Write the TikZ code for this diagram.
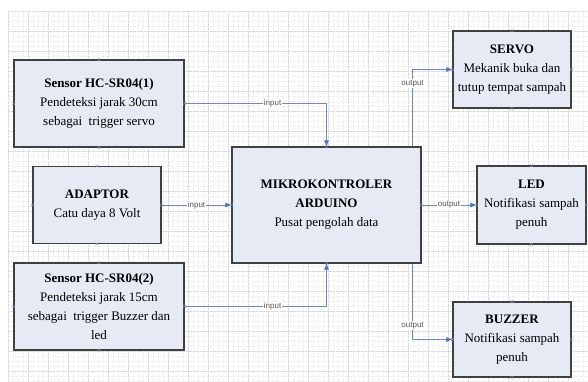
\documentclass[tikz,border=0pt]{standalone}
\usepackage{fontspec}
\setmainfont{Liberation Serif}
\setsansfont{Liberation Sans}
\usetikzlibrary{calc,positioning,arrows.meta}
\definecolor{boxfill}{HTML}{E5EAF4}
\definecolor{boxline}{HTML}{404040}
\definecolor{wire}{HTML}{7089B4}
\definecolor{tipblue}{HTML}{4A70B5}
\definecolor{gridgray}{HTML}{D8D8D8}
\definecolor{tagtext}{HTML}{555555}

\begin{document}
\begin{tikzpicture}[x=1pt,y=-1pt,
  blok/.style={draw=boxline,line width=1.1pt,fill=boxfill,align=center,
    font=\fontsize{13}{19}\selectfont,inner sep=2pt},
  wirecon/.style={draw=wire,line width=0.9pt,
    -{Latex[length=6pt,width=5pt,color=tipblue]}},
  tag/.style={fill=white,inner sep=1pt,text=tagtext,
    font=\sffamily\fontsize{8}{9}\selectfont},
  pin/.style={draw=wire!80,line width=0.4pt}]
  \useasboundingbox (0,0) rectangle (588,381);
  % grid sheet
  \fill[white] (8,11) rectangle (588,381);
  \foreach \gx in {8,13,...,588}{
    \draw[gridgray!35,densely dotted,line width=0.3pt] (\gx,11) -- (\gx,381);
  }
  \foreach \gy in {11,16,...,381}{
    \draw[gridgray!35,densely dotted,line width=0.3pt] (8,\gy) -- (588,\gy);
  }
  \foreach \gx in {8,28,...,588}{
    \draw[gridgray,densely dotted,line width=0.4pt] (\gx,11) -- (\gx,381);
  }
  \foreach \gy in {11,31,...,381}{
    \draw[gridgray,densely dotted,line width=0.4pt] (8,\gy) -- (588,\gy);
  }

  % blocks
  \node[blok,minimum width=170pt,minimum height=87pt] (sens1) at (99,103.5)
    {\textbf{Sensor HC-SR04(1)}\\Pendeteksi jarak 30cm\\sebagai~ trigger servo};
  \node[blok,minimum width=128pt,minimum height=77pt] (adaptor) at (97,205)
    {\textbf{ADAPTOR}\\Catu daya 8 Volt};
  \node[blok,minimum width=170pt,minimum height=87pt] (sens2) at (99,306.5)
    {\textbf{Sensor HC-SR04(2)}\\Pendeteksi jarak 15cm\\sebagai~ trigger Buzzer dan\\led};
  \node[blok,minimum width=189pt,minimum height=116pt] (mikro) at (326.5,205)
    {\textbf{MIKROKONTROLER}\\\textbf{ARDUINO}\\Pusat pengolah data};
  \node[blok,minimum width=118pt,minimum height=77pt] (servo) at (512,69.5)
    {\textbf{SERVO}\\Mekanik buka dan\\tutup tempat sampah};
  \node[blok,minimum width=109pt,minimum height=78pt] (led) at (531.5,205)
    {\textbf{LED}\\Notifikasi sampah\\penuh};
  \node[blok,minimum width=118pt,minimum height=75pt] (buzzer) at (512,339.5)
    {\textbf{BUZZER}\\Notifikasi sampah\\penuh};

  % connection points
  \foreach \b in {sens1,adaptor,sens2,mikro,servo,led,buzzer}{
    \foreach \a in {north,south,east,west}{
      \draw[pin] ($(\b.\a)+(-1.5,-1.5)$) -- ++(3,3);
      \draw[pin] ($(\b.\a)+(-1.5,1.5)$) -- ++(3,-3);
    }
  }

  % connectors
  \coordinate (outN) at ([xshift=-9pt]mikro.north east);
  \coordinate (outS) at ([xshift=-9pt]mikro.south east);
  \draw[wirecon] (sens1.east) -| node[tag,pos=0.31]{input} (mikro.north);
  \draw[wirecon] (adaptor.east) -- node[tag]{input} (mikro.west);
  \draw[wirecon] (sens2.east) -| node[tag,pos=0.31]{input} (mikro.south);
  \draw[wirecon] (mikro.east) -- node[tag]{output} (led.west);
  \draw[wirecon] (outN) |- node[tag,pos=0.41]{output} (servo.west);
  \draw[wirecon] (outS) |- node[tag,pos=0.41]{output} (buzzer.west);
\end{tikzpicture}
\end{document}
